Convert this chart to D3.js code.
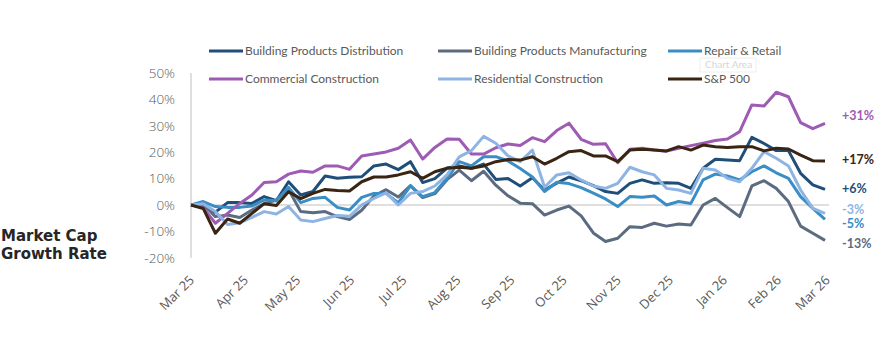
<!DOCTYPE html>
<html>
<head>
<meta charset="utf-8">
<script src="https://cdn.jsdelivr.net/npm/d3@7"></script>
<style>
  html, body { margin: 0; padding: 0; background: #fff; }
  svg { display: block; }
</style>
</head>
<body>
<div id="chart"></div>
<script>
  // weekly points, Mar 2025 - Feb 2026
  var weeks = d3.timeDay.range(new Date(2025, 2, 1), new Date(2026, 2, 1), 7);

  var seriesNames = ['Building Products Distribution', 'Building Products Manufacturing', 'Repair & Retail',
    'Commercial Construction', 'Residential Construction', 'S&P 500'];

  var distribution = [0, -0.6, -2.7, 0.9, 0.9, 0.6, 3.2, 1.6, 8.8, 3.8, 5.1, 11, 10.1, 10.5, 10.7, 14.8, 15.5, 13.4,
    16.4, 8.5, 10, 14, 14.8, 13.9, 15.5, 9.7, 10, 7.2, 10.3, 5.7, 8.3, 10.6, 9.2, 7.3, 5.1, 4.4, 8.2, 9.5, 8.2, 8.4,
    8.2, 6.3, 13.9, 17.3, 17, 16.8, 25.6, 23.3, 20.6, 20.6, 12, 7.6, 5.9];
  var manufacturing = [0, 0.4, -4.4, -3.8, -4.7, -1.9, 0.4, 1.9, 5.9, -2.5, -2.9, -2.5, -4.4, -5.5, -2, 3.4, 5.8, 3,
    7.4, 2.8, 4.3, 9.6, 13.2, 9.2, 12.8, 7.5, 3.5, 0.7, 0.5, -3.8, -1.9, -0.4, -4.1, -10.6, -13.8, -12.6, -8.2, -8.5,
    -6.9, -8, -7.2, -7.6, 0, 2.5, -1, -4.4, 7.2, 9.2, 6.3, 1.3, -8, -10.7, -13.4];
  var repairRetail = [0, 1.3, -0.6, -0.9, -0.9, -0.4, 1.9, 1.6, 6.7, 0.9, 2.5, 2.9, -0.9, -1.9, 2.9, 4.4, 4.4, 0.8,
    7.2, 3.2, 4.7, 10.1, 16.4, 14.8, 18.3, 18.3, 16.7, 13.8, 10.6, 5.1, 8.6, 8.1, 6.6, 4.5, 2.3, -0.6, 3.2, 2.9, 3.4,
    0, 1.3, 0.6, 9.5, 11.7, 11, 9.5, 12.6, 14.8, 12.2, 10.1, 3.2, -1.3, -5.4];
  var commercial = [0, -1, -6.9, -3.2, 0.6, 3.8, 8.5, 8.8, 11.7, 12.9, 12.4, 14.8, 14.8, 13.5, 18.6, 19.3, 20.1, 21.5,
    24.6, 17.4, 21.8, 25, 24.9, 19.3, 19.3, 21.7, 23.1, 22.5, 25.5, 24, 28.2, 31, 24.9, 23, 23.2, 16, 21.1, 21.5,
    20.8, 20.4, 21.5, 22.5, 23.4, 24.4, 25, 27.8, 37.9, 37.5, 42.7, 41, 31.2, 28.9, 30.9];
  var residential = [0, 0.5, -2.5, -7.4, -6.7, -4.7, -2.5, -3.4, -0.6, -5.7, -6.3, -5.1, -4, -4.3, 0, 2.5, 4.6, 0,
    4.4, 5.1, 7.2, 11.4, 18.2, 20.6, 26, 23.4, 18.6, 16.4, 20.8, 6.7, 11.4, 12.2, 9.5, 7.2, 6.3, 8.2, 14.3, 12.6,
    11.4, 6.3, 5.7, 4.4, 13.9, 13.3, 10.1, 8.8, 13.9, 20.2, 17.7, 14.8, 5.7, -1.3, -3.2];
  var sp500 = [0, -1.3, -10.7, -5.3, -6.9, -3.2, 0.5, -0.2, 5, 2.4, 4.4, 5.9, 5.5, 5.3, 8.8, 10.6, 10.6, 11.4, 12.6,
    10.1, 12.6, 13.9, 14.3, 13.9, 14.8, 16.4, 17.2, 17, 18.3, 15.5, 17.7, 20.2, 20.6, 18.6, 18.6, 16.4, 20.8, 21.1,
    20.8, 20.5, 22.1, 20.8, 22.7, 22.1, 21.8, 22.1, 22.1, 20.5, 21.5, 21.2, 18.9, 16.8, 16.7];

  var yTicks = [-20, -10, 0, 10, 20, 30, 40, 50];
  var endLabels = ['+6%', '-13%', '-5%', '+31%', '-3%', '+17%'];

  var colors = ['#1f4e79', '#5b6b80', '#3a8dc5', '#9e5bb4', '#8eb4e3', '#3a2412'];
  var labelNudge = [-1, 3, 4, -8, -4, -1];

  var allSeries = [distribution, manufacturing, repairRetail, commercial, residential, sp500];

  var width = 875, height = 363;
  var svg = d3.select('#chart').append('svg')
    .attr('width', width)
    .attr('height', height);

  var x = d3.scaleTime()
    .domain([weeks[0], weeks[weeks.length - 1]])
    .range([191, 825]);
  var y = d3.scaleLinear()
    .domain([-20, 50])
    .range([257.8, 73]);

  // y axis labels
  var yAxis = svg.append('g')
    .attr('transform', 'translate(191,0)')
    .call(d3.axisLeft(y).tickValues(yTicks).tickSize(0).tickPadding(16)
      .tickFormat(function (d) { return d + '%'; }));
  yAxis.select('.domain').remove();
  yAxis.selectAll('text')
    .attr('font-family', 'Open Sans, sans-serif')
    .attr('font-weight', 300)
    .attr('font-size', '13.5px')
    .attr('fill', '#595959');

  svg.append('line')
    .attr('x1', 191).attr('x2', 191)
    .attr('y1', y(50)).attr('y2', y(-20))
    .attr('stroke', '#bfbfbf').attr('stroke-width', 1);

  svg.append('line')
    .attr('x1', 191).attr('x2', 829)
    .attr('y1', y(0)).attr('y2', y(0))
    .attr('stroke', '#bfbfbf').attr('stroke-width', 1.2);

  // x labels, rotated
  var months = d3.timeMonth.range(new Date(2025, 2, 1), new Date(2026, 2, 2));
  var fmt = d3.timeFormat('%b %y');
  svg.append('g').selectAll('text')
    .data(months)
    .enter().append('text')
    .attr('transform', function (d) { return 'translate(' + (x(d) + 4) + ',281) rotate(-45)'; })
    .attr('text-anchor', 'end')
    .attr('font-family', 'Open Sans, sans-serif')
    .attr('font-size', '13px')
    .attr('fill', '#595959')
    .text(function (d) { return fmt(d); });

  // lines
  var line = d3.line()
    .x(function (d, i) { return x(weeks[i]); })
    .y(function (d) { return y(d); });

  svg.append('g').selectAll('path')
    .data(allSeries)
    .enter().append('path')
    .attr('d', line)
    .attr('fill', 'none')
    .attr('stroke', function (d, i) { return colors[i]; })
    .attr('stroke-width', 3)
    .attr('stroke-linejoin', 'round');

  // end labels
  svg.append('g').selectAll('text')
    .data(allSeries)
    .enter().append('text')
    .attr('x', 842)
    .attr('y', function (d, i) { return y(d[d.length - 1]) + labelNudge[i]; })
    .attr('dy', '0.35em')
    .attr('font-family', 'Lato, sans-serif')
    .attr('font-weight', 700)
    .attr('font-size', '12.5px')
    .attr('fill', function (d, i) { return colors[i]; })
    .text(function (d, i) { return endLabels[i]; });

  // legend
  var legendX = [209, 438, 668];
  var legend = svg.append('g').selectAll('g')
    .data(seriesNames)
    .enter().append('g')
    .attr('transform', function (d, i) { return 'translate(' + legendX[i % 3] + ',' + (i < 3 ? 51 : 79) + ')'; });
  legend.append('line')
    .attr('x1', 0).attr('x2', 34)
    .attr('stroke', function (d, i) { return colors[i]; })
    .attr('stroke-width', 3);
  legend.append('text')
    .attr('x', 36)
    .attr('dy', '0.35em')
    .attr('font-family', 'Lato, sans-serif')
    .attr('font-size', '12px')
    .attr('fill', '#595959')
    .text(function (d) { return d; });

  // faint "Chart Area" tooltip left by Excel
  svg.append('rect')
    .attr('x', 700).attr('y', 58).attr('width', 56).attr('height', 14)
    .attr('fill', '#fff').attr('stroke', '#eeeeee');
  svg.append('text')
    .attr('x', 705).attr('y', 68)
    .attr('font-family', 'Lato, sans-serif')
    .attr('font-size', '10px')
    .attr('fill', '#d6d6d6')
    .text('Chart Area');

  // side title
  var title = svg.append('text')
    .attr('font-family', 'DejaVu Sans, sans-serif')
    .attr('font-weight', 700)
    .attr('font-size', '15px')
    .attr('fill', '#262626');
  title.append('tspan').attr('x', 1).attr('y', 241).text('Market Cap');
  title.append('tspan').attr('x', 1).attr('y', 259).text('Growth Rate');
</script>
</body>
</html>
